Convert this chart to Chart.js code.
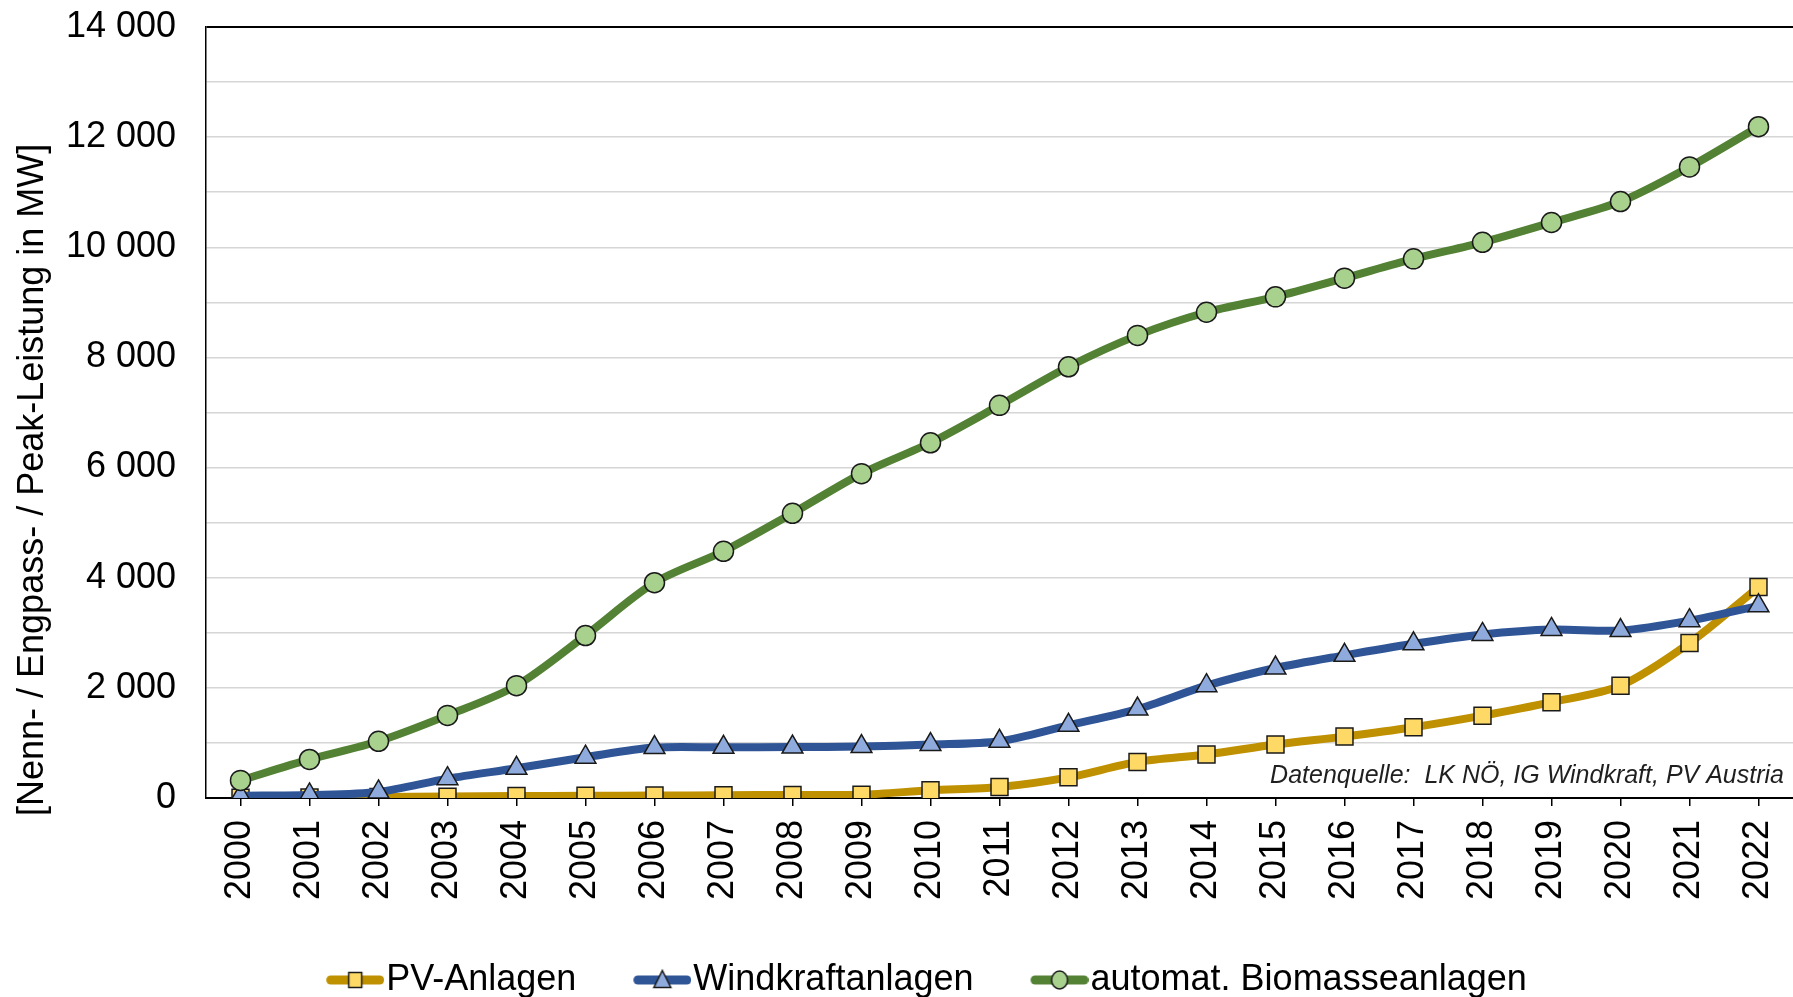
<!DOCTYPE html>
<html>
<head>
<meta charset="utf-8">
<script src="https://cdn.jsdelivr.net/npm/chart.js@4.4.1/dist/chart.umd.min.js"></script>
<style>
  html, body { margin: 0; padding: 0; background: #ffffff; }
  canvas { display: block; }
</style>
</head>
<body>
<canvas id="chart" width="1793" height="997"></canvas>
<script>
// Installed capacity in Lower Austria, 2000-2022 (MW)
const years = ['2000', '2001', '2002', '2003', '2004', '2005', '2006', '2007', '2008', '2009', '2010',
               '2011', '2012', '2013', '2014', '2015', '2016', '2017', '2018', '2019', '2020', '2021', '2022'];

const pvAnlagen = [5, 10, 20, 25, 35, 40, 45, 50, 55, 60, 140,
                   200, 375, 655, 790, 970, 1115, 1285, 1495, 1740, 2040, 2815, 3830];

const windkraftanlagen = [40, 55, 110, 350, 540, 740, 915, 920, 925, 935, 970,
                          1030, 1320, 1615, 2040, 2360, 2590, 2800, 2970, 3060, 3040, 3220, 3490];

const biomasseanlagen = [320, 700, 1030, 1500, 2040, 2950, 3910, 4480, 5170, 5890, 6450,
                         7130, 7830, 8400, 8820, 9100, 9440, 9790, 10090, 10450, 10830, 11460, 12190];

const seriesNames = ['PV-Anlagen', 'Windkraftanlagen', 'automat. Biomasseanlagen'];
const yTickLabels = ['0', '2 000', '4 000', '6 000', '8 000', '10 000', '12 000', '14 000'];
const axisTitle = '[Nenn- / Engpass- / Peak-Leistung in MW]';
const sourceNote = 'Datenquelle:  LK NÖ, IG Windkraft, PV Austria';

const FONT = "'Liberation Sans', Arial, Helvetica, sans-serif";
Chart.defaults.font.family = FONT;
Chart.defaults.color = '#000000';

// Legend swatch: thick line with the series marker in the middle.
// The swatch sits in the right part of a wider transparent canvas,
// which also provides the spacing between legend entries.
const SWATCH_CANVAS_W = 122;
const SWATCH_W = 58;
function legendSwatch(lineColor, fillColor, shape) {
  const cv = document.createElement('canvas');
  cv.width = SWATCH_CANVAS_W;
  cv.height = 26;
  const g = cv.getContext('2d');
  const x0 = SWATCH_CANVAS_W - SWATCH_W;
  const cx = x0 + SWATCH_W / 2;
  g.strokeStyle = lineColor;
  g.lineWidth = 9;
  g.lineCap = 'round';
  g.beginPath();
  g.moveTo(x0 + 4.5, 13);
  g.lineTo(x0 + SWATCH_W - 4.5, 13);
  g.stroke();
  g.fillStyle = fillColor;
  g.strokeStyle = '#1a1a1a';
  g.lineWidth = 1.5;
  g.beginPath();
  if (shape === 'rect') {
    g.rect(cx - 6.5, 5.5, 13, 15);
  } else if (shape === 'triangle') {
    g.moveTo(cx, 3.5);
    g.lineTo(cx + 8.5, 20.5);
    g.lineTo(cx - 8.5, 20.5);
    g.closePath();
  } else {
    g.ellipse(cx, 13, 8, 9, 0, 0, Math.PI * 2);
  }
  g.fill();
  g.stroke();
  return cv;
}

const styles = [
  { line: '#BF9000', fill: '#FFD966', shape: 'rect', radius: 12, order: 3 },
  { line: '#2F5597', fill: '#8FAADC', shape: 'triangle', radius: 12, order: 2 },
  { line: '#548235', fill: '#A9D18E', shape: 'circle', radius: 10, order: 1 }
];
const seriesValues = [pvAnlagen, windkraftanlagen, biomasseanlagen];

const datasets = seriesValues.map((values, i) => ({
  label: seriesNames[i],
  data: values,
  order: styles[i].order,
  borderColor: styles[i].line,
  backgroundColor: styles[i].fill,
  borderWidth: 8,
  tension: 0.3,
  pointStyle: styles[i].shape,
  pointRadius: styles[i].radius,
  pointBackgroundColor: styles[i].fill,
  pointBorderColor: '#1a1a1a',
  pointBorderWidth: 1.5,
  fill: false
}));

// Rotated axis title and source note
const annotations = {
  id: 'annotations',
  afterDraw(chart) {
    const { ctx, chartArea } = chart;
    ctx.save();
    ctx.fillStyle = '#000000';
    ctx.font = '36px ' + FONT;
    ctx.translate(43, chartArea.bottom + 18);
    ctx.rotate(-Math.PI / 2);
    ctx.textAlign = 'left';
    ctx.textBaseline = 'alphabetic';
    ctx.fillText(axisTitle, 0, 0);
    ctx.restore();

    ctx.save();
    ctx.fillStyle = '#1f1f1f';
    ctx.font = 'italic 25px ' + FONT;
    ctx.textAlign = 'right';
    ctx.textBaseline = 'alphabetic';
    ctx.fillText(sourceNote, chartArea.right - 9, chartArea.bottom - 15);
    ctx.restore();
  }
};

new Chart(document.getElementById('chart'), {
  type: 'line',
  data: { labels: years, datasets },
  plugins: [annotations],
  options: {
    responsive: false,
    animation: false,
    devicePixelRatio: 1,
    layout: { autoPadding: false, padding: { left: 12, top: 27, right: 0, bottom: -11 } },
    plugins: {
      tooltip: { enabled: false },
      legend: {
        position: 'bottom',
        labels: {
          font: { size: 36 },
          color: '#000000',
          usePointStyle: true,
          pointStyleWidth: 90,
          padding: 9,
          generateLabels(chart) {
            return chart.data.datasets.map((ds, i) => ({
              text: ds.label,
              pointStyle: legendSwatch(styles[i].line, styles[i].fill, styles[i].shape),
              fillStyle: styles[i].fill,
              strokeStyle: styles[i].line,
              lineWidth: 0,
              hidden: false,
              datasetIndex: i
            }));
          }
        }
      }
    },
    scales: {
      x: {
        offset: true,
        afterFit(scale) {
          scale.height = 155;
          scale.paddingLeft = 0;
          scale.paddingRight = 0;
        },
        grid: {
          drawOnChartArea: false,
          drawTicks: true,
          tickLength: 8,
          color: '#000000',
          lineWidth: 1.5
        },
        border: { display: true, color: '#000000', width: 2 },
        ticks: {
          autoSkip: false,
          minRotation: 90,
          maxRotation: 90,
          padding: 14,
          font: { size: 36 },
          color: '#000000'
        }
      },
      y: {
        min: 0,
        max: 14000,
        afterFit(scale) {
          scale.width = 194;
          scale.paddingTop = 0;
          scale.paddingBottom = 0;
        },
        grid: {
          drawTicks: false,
          color: (c) => (c.tick && c.tick.value === 14000 ? '#000000' : '#d6d6d6'),
          lineWidth: (c) => (c.tick && c.tick.value === 14000 ? 2 : 1.5)
        },
        border: { display: true, color: '#000000', width: 1.5 },
        ticks: {
          stepSize: 1000,
          autoSkip: false,
          padding: 30,
          font: { size: 36 },
          color: '#000000',
          callback: (v) => (v % 2000 === 0 ? yTickLabels[v / 2000] : '')
        }
      }
    }
  }
});
</script>
</body>
</html>
